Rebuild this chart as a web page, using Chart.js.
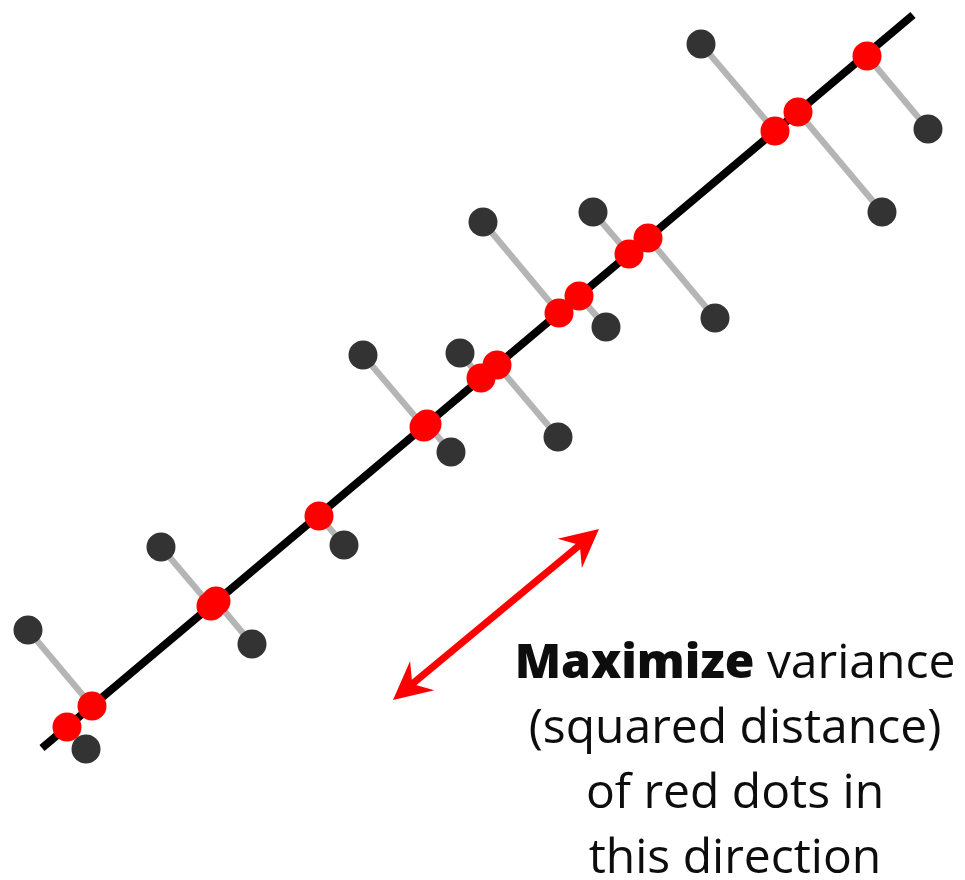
<!DOCTYPE html>
<html><head><meta charset="utf-8">
<script src="https://cdn.jsdelivr.net/npm/chart.js@4.4.1/dist/chart.umd.min.js"></script>
<style>
html,body{margin:0;padding:0;background:#fff;}
#wrap{position:relative;width:965px;height:880px;overflow:hidden;}
#c{position:absolute;left:0;top:0;}
#note{position:absolute;left:500px;width:470px;top:627px;text-align:center;font-family:"Open Sans",sans-serif;font-size:48px;line-height:65px;color:#0d0d0d;}
#note b{font-weight:800;}
</style></head>
<body><div id="wrap"><canvas id="c" width="965" height="880"></canvas><div id="note"><b>Maximize</b> variance<br>(squared distance)<br>of red dots in<br>this direction</div></div>
<script>
// original data points (grey)
const grayX = [28, 86, 161, 252, 344, 363, 451, 460, 558, 483, 606, 593, 715, 701, 882, 928];
const grayY = [630, 749, 547, 644, 545, 355, 452, 353, 437, 222, 327, 212, 318, 44, 212, 129];
// their projections on the principal axis (red)
const redX = [92, 67, 211, 216, 319, 424, 427, 481, 497, 559, 579, 629, 648, 775, 798, 867];
const redY = [706, 727, 606, 601, 516, 427, 424, 378, 365, 313, 296, 254, 238, 131, 112, 56];
// principal axis end points
const axisX = [42, 913];
const axisY = [748, 15];
// direction arrow end points
const arrowX = [393, 599];
const arrowY = [700, 529];

const datasets = [];
datasets.push({
  label: 'projected', data: redX.map((x, i) => ({x, y: redY[i]})),
  pointRadius: 14.5, pointBackgroundColor: '#ff0000', pointBorderWidth: 0, showLine: false, order: 0, clip: false
});
datasets.push({
  label: 'data', data: grayX.map((x, i) => ({x, y: grayY[i]})),
  pointRadius: 14.5, pointBackgroundColor: '#333333', pointBorderWidth: 0, showLine: false, order: 1, clip: false
});
datasets.push({
  label: 'axis', data: axisX.map((x, i) => ({x, y: axisY[i]})),
  showLine: true, borderColor: '#000000', borderWidth: 8, pointRadius: 0, order: 2, clip: false
});
grayX.forEach((x, i) => {
  datasets.push({
    label: 'proj' + i, data: [{x, y: grayY[i]}, {x: redX[i], y: redY[i]}],
    showLine: true, borderColor: '#b5b5b5', borderWidth: 6.5, pointRadius: 0, order: 3, clip: false
  });
});

const arrowPlugin = {
  id: 'arrow',
  afterDatasetsDraw(chart) {
    const xs = chart.scales.x, ys = chart.scales.y, ctx = chart.ctx;
    const ax = arrowX.map(v => xs.getPixelForValue(v));
    const ay = arrowY.map(v => ys.getPixelForValue(v));
    const dx = ax[1] - ax[0], dy = ay[1] - ay[0];
    const L = Math.hypot(dx, dy), ux = dx / L, uy = dy / L, nx = -uy, ny = ux;
    const len = 38, hw = 19, notch = 25;
    ctx.save();
    ctx.strokeStyle = '#ff0000'; ctx.fillStyle = '#ff0000'; ctx.lineWidth = 7;
    ctx.beginPath();
    ctx.moveTo(ax[0] + ux * notch, ay[0] + uy * notch);
    ctx.lineTo(ax[1] - ux * notch, ay[1] - uy * notch);
    ctx.stroke();
    const head = (tx, ty, s) => {
      ctx.beginPath();
      ctx.moveTo(tx, ty);
      ctx.lineTo(tx - s * ux * len + nx * hw, ty - s * uy * len + ny * hw);
      ctx.lineTo(tx - s * ux * notch, ty - s * uy * notch);
      ctx.lineTo(tx - s * ux * len - nx * hw, ty - s * uy * len - ny * hw);
      ctx.closePath();
      ctx.fill();
    };
    head(ax[1], ay[1], 1);
    head(ax[0], ay[0], -1);
    ctx.restore();
  }
};

new Chart(document.getElementById('c'), {
  type: 'scatter',
  data: { datasets },
  options: {
    responsive: false, animation: false, devicePixelRatio: 1, events: [],
    layout: { padding: 0, autoPadding: false },
    plugins: { legend: { display: false }, tooltip: { enabled: false } },
    scales: {
      x: { type: 'linear', min: 0, max: 965, display: false },
      y: { type: 'linear', min: 0, max: 880, reverse: true, display: false }
    }
  },
  plugins: [arrowPlugin]
});
</script>
</body></html>
